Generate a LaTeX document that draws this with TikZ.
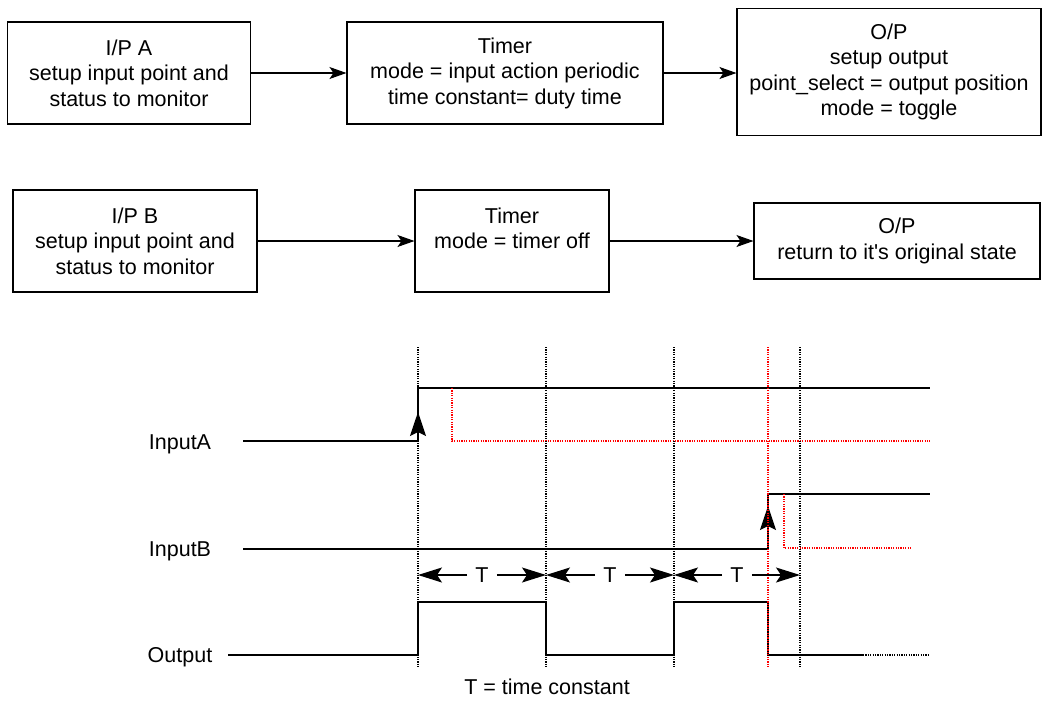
\documentclass[tikz,border=0pt]{standalone}
\usepackage{fontspec}
\setmainfont{Liberation Sans}[Ligatures=TeXOff]
\usetikzlibrary{arrows.meta}
\begin{document}
\begin{tikzpicture}[x=1pt,y=-1pt,
  every node/.style={font=\fontsize{21.5}{25.5}\selectfont},
  blk/.style={draw, line width=1.1pt, align=center, inner sep=0pt},
  flow/.style={-{Stealth[length=17pt,width=12pt,inset=4pt]}, line width=1.1pt},
  sig/.style={line width=1.3pt},
  guide/.style={line width=1.2pt, dash pattern=on 1.2pt off 1.2pt},
  redguide/.style={guide, red},
  edgearrow/.style={-{Stealth[length=24pt,width=16pt,inset=4pt]}, line width=1.3pt},
  dim/.style={-{Stealth[length=24pt,width=15pt,inset=5pt]}, line width=1.3pt},
  tlabel/.style={inner xsep=8pt, inner ysep=0pt}
]
\useasboundingbox (0,0) rectangle (1043,707);

% ---- first chain: input A
\node[blk, minimum width=243pt, minimum height=102pt] (ipa) at (129,73)
  {I/P A\\setup input point and\\status to monitor};
\node[blk, minimum width=316pt, minimum height=102pt] (tma) at (505,73)
  {Timer\\mode = input action periodic\\time constant= duty time};
\node[blk, minimum width=304pt, minimum height=127pt] (opa) at (889,72)
  {O/P\\setup output\\point\_select = output position\\mode = toggle};
\draw[flow] (ipa.east) -- (tma.west);
\draw[flow] (tma.east) -- (tma.east -| opa.west);

% ---- second chain: input B
\node[blk, minimum width=244pt, minimum height=102pt] (ipb) at (135,241)
  {I/P B\\setup input point and\\status to monitor};
\node[blk, minimum width=194pt, minimum height=102pt] (tmb) at (512,241)
  {Timer\\mode = timer off\\\mbox{}};
\node[blk, minimum width=286pt, minimum height=76pt] (opb) at (897,241)
  {O/P\\return to it's original state};
\draw[flow] (ipb.east) -- (tmb.west);
\draw[flow] (tmb.east) -- (opb.west);

% ---- timing diagram
\node[anchor=base] (la) at (180,449) {InputA};
\node[anchor=base] (lb) at (180,556.5) {InputB};
\node[anchor=base] (lo) at (180,662) {Output};

% input A
\draw[sig] (243,441) -- (418,441) -- (418,388) -- (930,388);
\draw[edgearrow] (418,441) -- (418,412);
\draw[redguide] (452,388) -- (452,441) -- (930,441);

% input B
\draw[sig] (243,549) -- (768,549) -- (768,494) -- (930,494);
\draw[edgearrow] (768,549) -- (768,506);
\draw[redguide] (784,494) -- (784,548) -- (912,548);

% output
\draw[sig] (228,655) -- (418,655) -- (418,602) -- (546,602) -- (546,655)
  -- (674,655) -- (674,602) -- (768,602) -- (768,655) -- (863,655);
\draw[guide] (863,655) -- (930,655);

% period markers
\foreach \xx in {418,546,674,800}
  \draw[guide] (\xx,347) -- (\xx,668);
\draw[redguide] (768,347) -- (768,668);

% period dimensions
\coordinate (d1) at (418,575);
\coordinate (d2) at (546,575);
\coordinate (d3) at (674,575);
\coordinate (d4) at (800,575);
\node[tlabel] (t1) at (482,575) {T};
\node[tlabel] (t2) at (610,575) {T};
\node[tlabel] (t3) at (737,575) {T};
\draw[dim] (t1.west) -- (d1);
\draw[dim] (t1.east) -- (d2);
\draw[dim] (t2.west) -- (d2);
\draw[dim] (t2.east) -- (d3);
\draw[dim] (t3.west) -- (d3);
\draw[dim] (t3.east) -- (d4);

\node (note) at (547,687) {T = time constant};
\end{tikzpicture}
\end{document}
